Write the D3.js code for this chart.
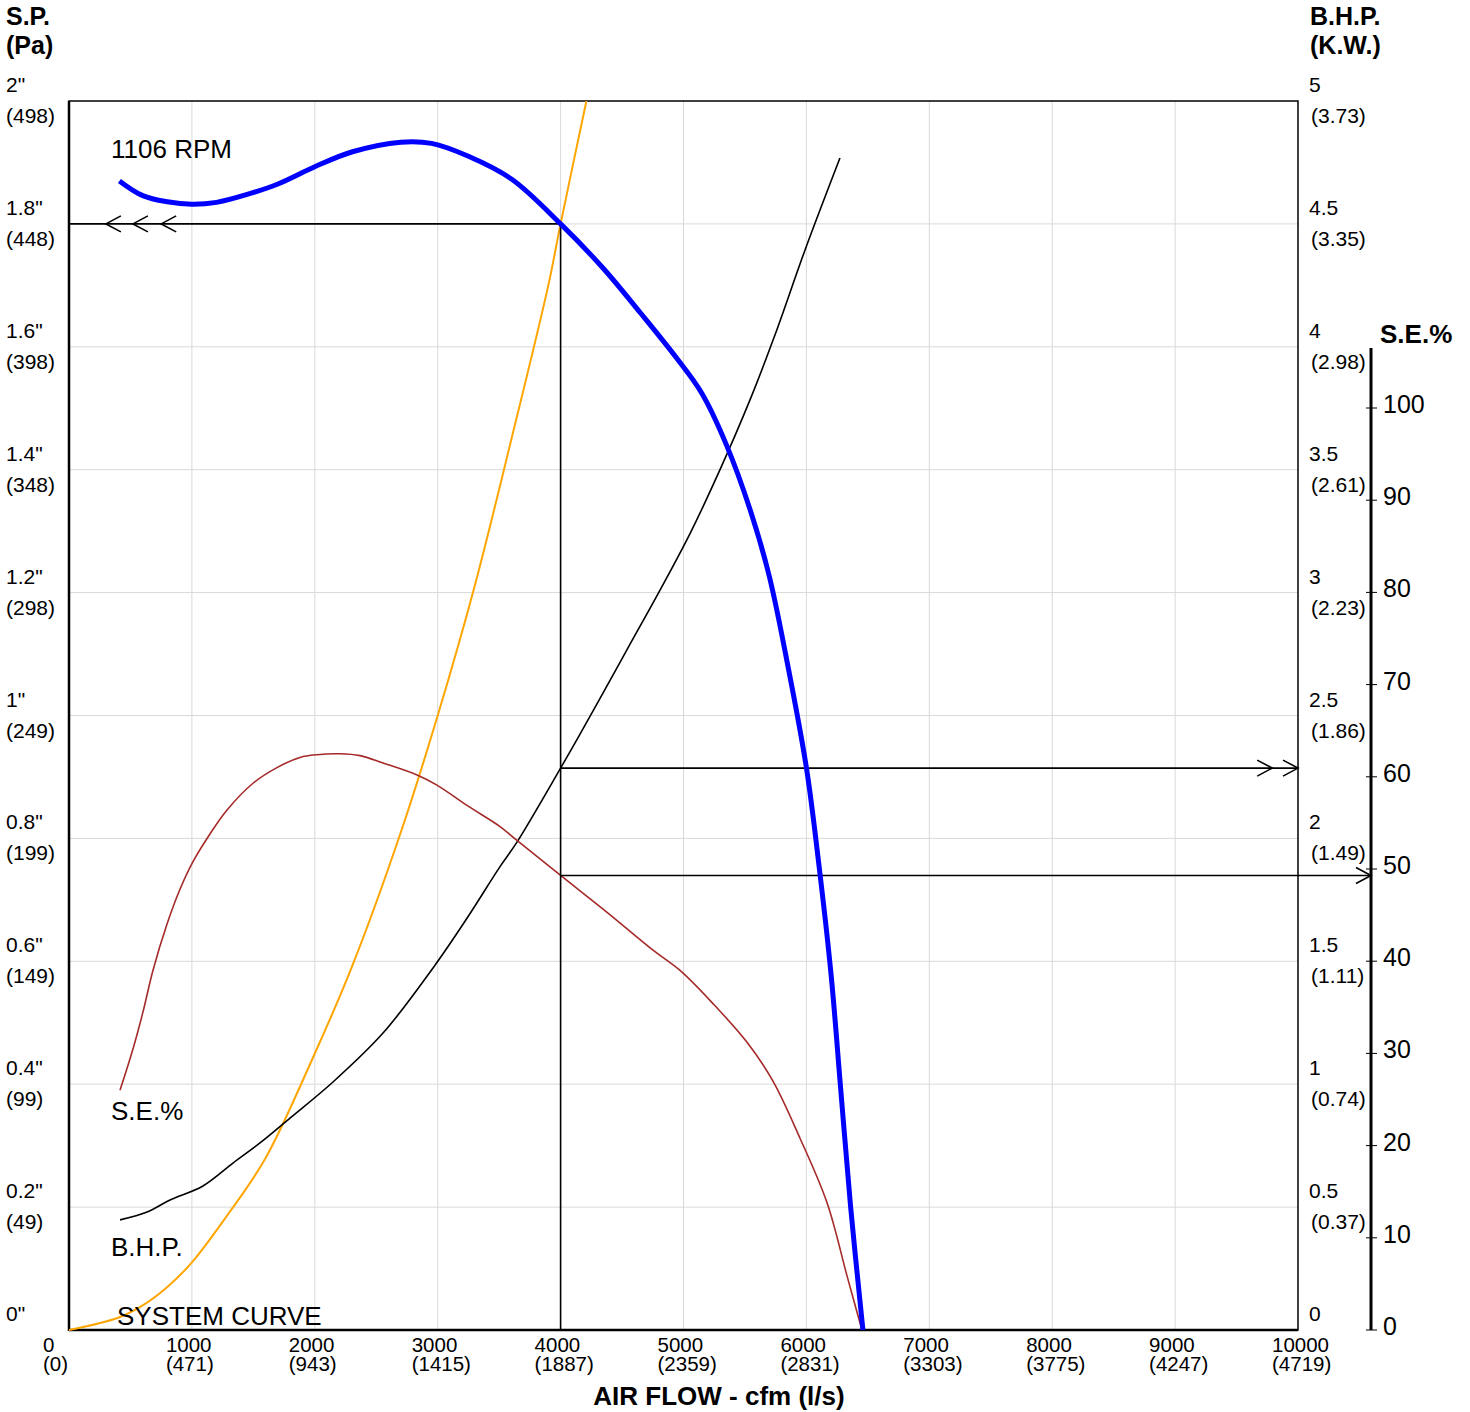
<!DOCTYPE html>
<html>
<head>
<meta charset="utf-8">
<script src="https://cdn.jsdelivr.net/npm/d3@7"></script>
<style>
  body { margin: 0; background: #fff; }
  svg { font-family: 'Liberation Sans', Arial, sans-serif; }
</style>
</head>
<body>
<svg id="chart" width="1470" height="1412"></svg>
<script>
// fan curve (cfm / inches wg / bhp / %)

// static pressure curve at 1106 rpm
const spCfm = [410, 600, 800, 1000, 1200, 1450, 1700, 2000, 2300, 2700, 2950, 3250, 3600, 4000,
  4350, 4650, 4950, 5150, 5350, 5550, 5700, 5850, 6000, 6100, 6200, 6280, 6360, 6460];
const spInch = [1.87, 1.846, 1.836, 1.832, 1.835, 1.848, 1.865, 1.893, 1.917, 1.933, 1.931, 1.91, 1.873, 1.80,
  1.727, 1.655, 1.58, 1.524, 1.44, 1.33, 1.225, 1.08, 0.915, 0.76, 0.58, 0.39, 0.20, 0];

// brake horse power
const bhpCfm = [415, 635, 822, 1090, 1334, 1554, 1798, 2148, 2555, 2962, 3238, 3507, 3645, 4000,
  4142, 4321, 4565, 4809, 5053, 5297, 5541, 5744, 5989, 6273];
const bhpVal = [0.448, 0.48, 0.529, 0.586, 0.679, 0.761, 0.862, 1.009, 1.208, 1.473, 1.675, 1.885, 1.985, 2.286,
  2.41, 2.57, 2.79, 3.01, 3.24, 3.50, 3.784, 4.048, 4.394, 4.768];

// static efficiency %
const seCfm = [415, 521, 602, 683, 797, 903, 1009, 1147, 1286, 1497, 1692, 1880, 2018, 2205, 2368, 2555,
  2832, 2994, 3238, 3507, 3645, 4000, 4378, 4752, 4972, 5240, 5517, 5728, 5948, 6168, 6330, 6452];
const seVal = [26.0, 30.5, 34.5, 39.0, 44.0, 47.8, 50.8, 53.8, 56.4, 59.3, 61.0, 62.1, 62.4, 62.5, 62.3, 61.5,
  60.2, 59.1, 56.9, 54.6, 53.1, 49.3, 45.3, 41.2, 39.0, 35.4, 31.2, 27.0, 20.8, 13.8, 5.9, 0];

// system curve
const sysCfm = [0, 400, 600, 800, 1000, 1300, 1600, 2000, 2300, 2700, 3000, 3300, 3600, 3900, 4000, 4210];
const sysInch = [0, 0.02, 0.04, 0.07, 0.11, 0.19, 0.28, 0.45, 0.59, 0.81, 1.0, 1.21, 1.45, 1.70, 1.80, 2.0];

// duty point
const dutyCfm = 4000, dutyInch = 1.8, dutyBhp = 2.286, dutySe = 49.3;

// tick labels
const cfmTicks = [0, 1000, 2000, 3000, 4000, 5000, 6000, 7000, 8000, 9000, 10000];
const lsLabels = ['(0)', '(471)', '(943)', '(1415)', '(1887)', '(2359)', '(2831)', '(3303)', '(3775)', '(4247)', '(4719)'];
const spTicks = [0, 0.2, 0.4, 0.6, 0.8, 1, 1.2, 1.4, 1.6, 1.8, 2];
const paLabels = ['', '(49)', '(99)', '(149)', '(199)', '(249)', '(298)', '(348)', '(398)', '(448)', '(498)'];
const bhpTicks = [0, 0.5, 1, 1.5, 2, 2.5, 3, 3.5, 4, 4.5, 5];
const kwLabels = ['', '(0.37)', '(0.74)', '(1.11)', '(1.49)', '(1.86)', '(2.23)', '(2.61)', '(2.98)', '(3.35)', '(3.73)'];
const seTicks = [0, 10, 20, 30, 40, 50, 60, 70, 80, 90, 100];

const svg = d3.select('#chart');
const margin = {left: 69, right: 1298, top: 101, bottom: 1330};

const x = d3.scaleLinear().domain([0, 10000]).range([margin.left, margin.right]);
const y = d3.scaleLinear().domain([0, 2]).range([margin.bottom, margin.top]);
const yB = d3.scaleLinear().domain([0, 5]).range([margin.bottom, margin.top]);
const yS = d3.scaleLinear().domain([0, 100]).range([margin.bottom, margin.bottom - 922]);
const seAxisX = 1371;

// grid
svg.append('g').selectAll('line')
  .data(cfmTicks.slice(1, -1))
  .enter().append('line')
  .attr('x1', d => x(d)).attr('x2', d => x(d))
  .attr('y1', margin.top).attr('y2', margin.bottom)
  .attr('stroke', '#d9d9d9').attr('stroke-width', 1);
svg.append('g').selectAll('line')
  .data(spTicks.slice(1, -1))
  .enter().append('line')
  .attr('x1', margin.left).attr('x2', margin.right)
  .attr('y1', d => y(d)).attr('y2', d => y(d))
  .attr('stroke', '#d9d9d9').attr('stroke-width', 1);

// frame
svg.append('rect')
  .attr('x', margin.left).attr('y', margin.top)
  .attr('width', margin.right - margin.left).attr('height', margin.bottom - margin.top)
  .attr('fill', 'none').attr('stroke', '#000').attr('stroke-width', 1.5);
svg.append('line').attr('x1', margin.left).attr('x2', margin.left)
  .attr('y1', margin.top).attr('y2', margin.bottom + 1)
  .attr('stroke', '#000').attr('stroke-width', 2.5);
svg.append('line').attr('x1', margin.left).attr('x2', margin.right)
  .attr('y1', margin.bottom).attr('y2', margin.bottom)
  .attr('stroke', '#000').attr('stroke-width', 2.5);

// left axis labels
const left = svg.append('g').attr('font-size', 21).attr('fill', '#000');
spTicks.forEach((v, i) => {
  left.append('text').attr('x', 6).attr('y', y(v) - 9).text(v + '"');
  if (paLabels[i]) left.append('text').attr('x', 6).attr('y', y(v) + 22).text(paLabels[i]);
});

// right axis labels
const right = svg.append('g').attr('font-size', 21).attr('fill', '#000');
bhpTicks.forEach((v, i) => {
  right.append('text').attr('x', 1309).attr('y', yB(v) - 9).text(v);
  if (kwLabels[i]) right.append('text').attr('x', 1311).attr('y', yB(v) + 22).text(kwLabels[i]);
});

// bottom labels (two stacked lines, tight as on the sheet)
const bottom = svg.append('g').attr('font-size', 20.5).attr('fill', '#000');
cfmTicks.forEach((v, i) => {
  bottom.append('text').attr('x', x(v) - 26).attr('y', 1352).text(v);
  bottom.append('text').attr('x', x(v) - 26).attr('y', 1371).text(lsLabels[i]);
});

// S.E. axis
svg.append('line')
  .attr('x1', seAxisX).attr('x2', seAxisX)
  .attr('y1', yS(106.5)).attr('y2', yS(0))
  .attr('stroke', '#000').attr('stroke-width', 3);
svg.append('g').selectAll('line')
  .data(seTicks)
  .enter().append('line')
  .attr('x1', seAxisX - 5).attr('x2', seAxisX + 6)
  .attr('y1', d => yS(d)).attr('y2', d => yS(d))
  .attr('stroke', '#000').attr('stroke-width', 1);
svg.append('g').selectAll('text')
  .data(seTicks)
  .enter().append('text')
  .attr('x', 1383).attr('y', d => yS(d) + 5)
  .attr('font-size', 25)
  .text(d => d);

// titles
const bold = svg.append('g').attr('font-weight', 'bold').attr('font-size', 25);
bold.append('text').attr('x', 6).attr('y', 25).text('S.P.');
bold.append('text').attr('x', 6).attr('y', 54).text('(Pa)');
bold.append('text').attr('x', 1310).attr('y', 25).text('B.H.P.');
bold.append('text').attr('x', 1310).attr('y', 54).text('(K.W.)');
bold.append('text').attr('x', 1380).attr('y', 343).attr('font-size', 26).text('S.E.%');
bold.append('text').attr('x', 719).attr('y', 1405).attr('text-anchor', 'middle')
  .attr('font-size', 26).text('AIR FLOW - cfm (l/s)');

// curves
const zip = (a, b) => a.map((v, i) => [v, b[i]]);
const curve = d3.curveCatmullRom.alpha(0.5);

svg.append('path')
  .datum(zip(sysCfm, sysInch))
  .attr('fill', 'none').attr('stroke', '#ffa500').attr('stroke-width', 2)
  .attr('d', d3.line().x(d => x(d[0])).y(d => y(d[1])).curve(curve));

svg.append('path')
  .datum(zip(bhpCfm, bhpVal))
  .attr('fill', 'none').attr('stroke', '#000').attr('stroke-width', 1.6)
  .attr('d', d3.line().x(d => x(d[0])).y(d => yB(d[1])).curve(curve));

svg.append('path')
  .datum(zip(seCfm, seVal))
  .attr('fill', 'none').attr('stroke', '#a52a2a').attr('stroke-width', 1.6)
  .attr('d', d3.line().x(d => x(d[0])).y(d => yS(d[1])).curve(curve));

// duty point guide lines
const guide = svg.append('g').attr('stroke', '#000').attr('stroke-width', 1.6).attr('fill', 'none');
guide.append('line').attr('x1', x(dutyCfm)).attr('x2', x(dutyCfm))
  .attr('y1', y(dutyInch)).attr('y2', margin.bottom);
guide.append('line').attr('x1', margin.left).attr('x2', x(dutyCfm))
  .attr('y1', y(dutyInch)).attr('y2', y(dutyInch));
guide.append('line').attr('x1', x(dutyCfm)).attr('x2', margin.right)
  .attr('y1', yB(dutyBhp)).attr('y2', yB(dutyBhp));
guide.append('line').attr('x1', x(dutyCfm)).attr('x2', seAxisX)
  .attr('y1', yS(dutySe)).attr('y2', yS(dutySe));

// chevrons
const chev = (tx, ty, dir) => 'M' + (tx - dir * 15) + ',' + (ty - 8) + 'L' + tx + ',' + ty + 'L' + (tx - dir * 15) + ',' + (ty + 8);
[300, 520, 750].forEach(c => guide.append('path').attr('d', chev(x(c), y(dutyInch), -1)));
[9790, 10000].forEach(c => guide.append('path').attr('d', chev(x(c), yB(dutyBhp), 1)));
guide.append('path').attr('d', chev(seAxisX, yS(dutySe), 1));

// fan pressure curve on top
svg.append('path')
  .datum(zip(spCfm, spInch))
  .attr('fill', 'none').attr('stroke', '#0000ff').attr('stroke-width', 5)
  .attr('d', d3.line().x(d => x(d[0])).y(d => y(d[1])).curve(curve));

// curve names
const names = svg.append('g').attr('font-size', 26);
names.append('text').attr('x', 111).attr('y', 158).text('1106 RPM');
names.append('text').attr('x', 111).attr('y', 1120).text('S.E.%');
names.append('text').attr('x', 111).attr('y', 1256).text('B.H.P.');
names.append('text').attr('x', 117).attr('y', 1325).text('SYSTEM CURVE');
</script>
</body>
</html>
